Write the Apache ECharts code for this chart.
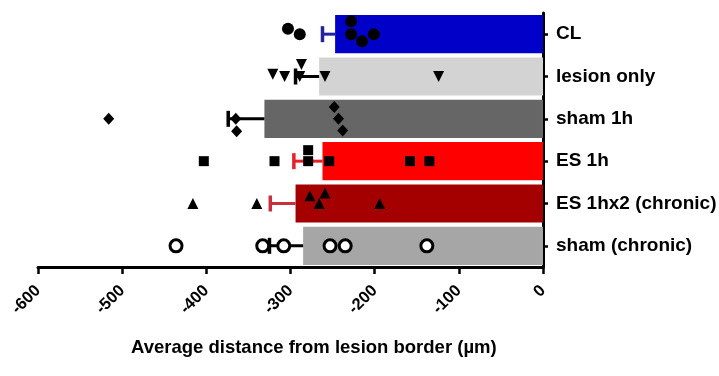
<!DOCTYPE html>
<html>
<head>
<meta charset="utf-8">
<script src="https://cdn.jsdelivr.net/npm/echarts@6/dist/echarts.min.js"></script>
<style>
  html, body { margin: 0; padding: 0; background: #fff; }
  #chart { width: 719px; height: 376px; }
</style>
</head>
<body>
<div id="chart"></div>
<script>
const groups = ['CL', 'lesion only', 'sham 1h', 'ES 1h', 'ES 1hx2 (chronic)', 'sham (chronic)'];
const means = [-247, -266, -331, -262, -294, -285];
const sems = [15, 28, 43, 34, 30, 40];

// individual animals per group
const ptsCL = [-228, -228, -215, -201, -289, -303];
const ptsLesion = [-259, -289, -307, -321, -287, -124];
const ptsSham1h = [-243, -248, -238, -365, -364, -516];
const ptsES1h = [-279, -279, -254, -319, -403, -158, -135];
const ptsES1hx2 = [-266, -277, -259, -340, -416, -194];
const ptsShamChronic = [-308, -333, -253, -235, -436, -138];

const barColors = ['#0000c8', '#d3d3d3', '#666666', '#ff0000', '#a50000', '#a6a6a6'];
const errColors = ['#23239a', '#000000', '#000000', '#e3222b', '#c8303c', '#000000'];

const chart = echarts.init(document.getElementById('chart'));

function dots(name, pts, idx, symbol, extra) {
  return Object.assign({
    name: name,
    type: 'scatter',
    symbol: symbol,
    symbolSize: 11,
    z: 5,
    itemStyle: { color: '#000', opacity: 1 },
    data: pts.map(v => [v, idx])
  }, extra || {});
}

const option = {
  animation: false,
  title: {
    text: 'Average distance from lesion border (µm)',
    left: 126,
    top: 333,
    textStyle: { fontFamily: 'Arial', fontWeight: 'bold', fontSize: 18.5, color: '#000' }
  },
  grid: { left: 38, right: 176, top: 13, bottom: 109, outerBoundsMode: 'none' },
  xAxis: {
    type: 'value',
    min: -600,
    max: 0,
    interval: 100,
    axisLine: { show: true, lineStyle: { color: '#000', width: 3 } },
    axisTick: { show: true, length: 7, lineStyle: { color: '#000', width: 2.5 } },
    splitLine: { show: false },
    axisLabel: {
      rotate: 45,
      margin: 21,
      fontFamily: 'Arial',
      fontWeight: 'bold',
      fontSize: 16.5,
      color: '#000'
    }
  },
  yAxis: {
    type: 'category',
    inverse: true,
    position: 'right',
    data: groups,
    jitter: 34,
    jitterOverlap: false,
    jitterMargin: 1,
    axisLine: { show: true, lineStyle: { color: '#000', width: 3 } },
    axisTick: { show: true, alignWithLabel: true, length: 5, lineStyle: { color: '#000', width: 2.5 } },
    axisLabel: {
      margin: 13,
      fontFamily: 'Arial',
      fontWeight: 'bold',
      fontSize: 19,
      color: '#000'
    }
  },
  series: [
    {
      name: 'mean',
      type: 'bar',
      barCategoryGap: '10%',
      z: 2,
      data: means.map((v, i) => ({ value: v, itemStyle: { color: barColors[i] } }))
    },
    {
      name: 'sem',
      type: 'custom',
      z: 3,
      data: means.map((m, i) => [m, m - sems[i], i]),
      renderItem: function (params, api) {
        const i = api.value(2);
        const a = api.coord([api.value(0), i]);
        const b = api.coord([api.value(1), i]);
        const c = errColors[i];
        const half = 8;
        return {
          type: 'group',
          children: [
            { type: 'line', shape: { x1: a[0], y1: a[1], x2: b[0], y2: b[1] }, style: { stroke: c, lineWidth: 3 } },
            { type: 'line', shape: { x1: b[0], y1: b[1] - half, x2: b[0], y2: b[1] + half }, style: { stroke: c, lineWidth: 3.5 } }
          ]
        };
      }
    },
    dots('CL', ptsCL, 0, 'circle', { symbolSize: 12 }),
    dots('lesion only', ptsLesion, 1, 'triangle', { symbolRotate: 180 }),
    dots('sham 1h', ptsSham1h, 2, 'diamond', { symbolSize: [11, 12] }),
    dots('ES 1h', ptsES1h, 3, 'rect', { symbolSize: 10 }),
    dots('ES 1hx2 (chronic)', ptsES1hx2, 4, 'triangle'),
    dots('sham (chronic)', ptsShamChronic, 5, 'circle', {
      symbolSize: 12,
      itemStyle: { color: '#fff', borderColor: '#000', borderWidth: 3, opacity: 1 }
    })
  ]
};

chart.setOption(option);
</script>
</body>
</html>
